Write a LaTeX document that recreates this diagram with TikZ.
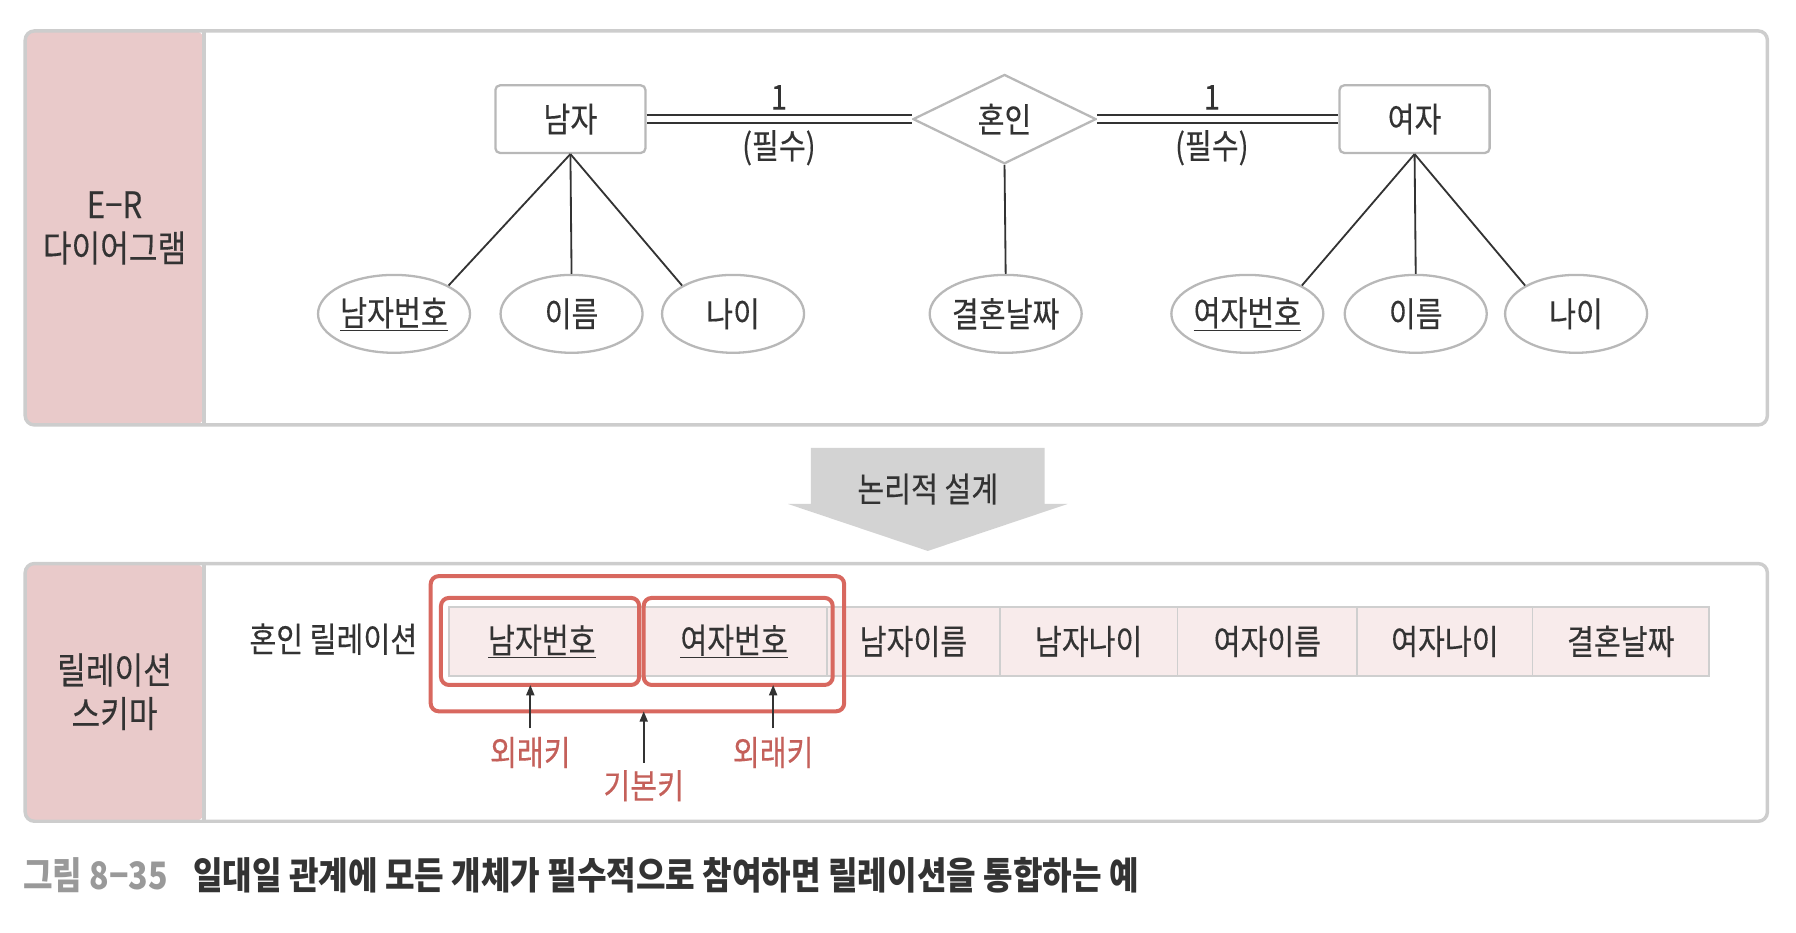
\documentclass[tikz,border=0pt]{standalone}
\usepackage{fontspec}
\setmainfont{Noto Sans CJK KR}[FakeStretch=0.85,UprightFeatures={FakeBold=0.3}]
\usetikzlibrary{shapes.geometric,arrows.meta}
\definecolor{pinkbg}{HTML}{E9CACA}
\definecolor{panelgray}{HTML}{CDCDCD}
\definecolor{cellfill}{HTML}{F8EBEB}
\definecolor{cellline}{HTML}{CFCFCF}
\definecolor{keyred}{HTML}{D8685F}
\definecolor{keytext}{HTML}{C4605A}
\definecolor{arrowgray}{HTML}{D3D3D3}
\definecolor{txt}{HTML}{333333}
\definecolor{capgray}{HTML}{999999}
\tikzset{
  every node/.style={text=txt,font=\fontsize{30}{34}\selectfont},
  panel/.style={draw=panelgray,line width=3pt,rounded corners=8pt},
  entity/.style={draw=panelgray!90!black,line width=2pt,fill=white,rounded corners=4pt,minimum width=131pt,minimum height=59pt,inner sep=0pt},
  relat/.style={diamond,draw=panelgray!90!black,line width=2pt,fill=white,minimum width=160pt,minimum height=78pt,inner sep=0pt,aspect=2},
  attr/.style={ellipse,draw=panelgray!90!black,line width=2pt,fill=white,minimum width=124pt,minimum height=68pt,inner sep=0pt},
  link/.style={draw=txt,line width=1.6pt},
  dbl/.style={draw=txt,line width=1.5pt,double=white,double distance=5.5pt},
  cell/.style={draw=cellline,line width=1.5pt,fill=cellfill,minimum height=60pt,inner sep=0pt},
  redbox/.style={draw=keyred,line width=3.5pt,rounded corners=7pt},
  keylbl/.style={text=keytext},
  sidelbl/.style={align=center,font=\fontsize{32}{38}\selectfont},
  keyarrow/.style={draw=txt,line width=1.5pt,-{Triangle[length=9pt,width=7pt]}},
}
\begin{document}
\begin{tikzpicture}[x=1pt,y=-1pt]
\useasboundingbox (0,0) rectangle (1568,814);
% ---------- top panel ----------
\fill[pinkbg,rounded corners=8pt] (22,27) rectangle (178,371);
\draw[panelgray,line width=3pt] (178,27) -- (178,371);
\draw[panel] (22,27) rectangle (1543,371);
\node[sidelbl] (erlbl) at (100,199) {E−R\\다이어그램};

\node[entity] (man) at (498,104) {남자};
\node[relat] (mar) at (877,104) {혼인};
\node[entity] (wom) at (1235,104) {여자};

\draw[dbl] (man.east) -- (mar.west);
\draw[dbl] (mar.east) -- (wom.west);
\node (c1) at (680,85) {1};
\node (p1) at (680,129) {(필수)};
\node (c2) at (1058,85) {1};
\node (p2) at (1058,129) {(필수)};

\node[attr] (mno) at (344,274) {\underline{남자번호}};
\node[attr] (mname) at (499,274) {이름};
\node[attr] (mage) at (640,274) {나이};
\node[attr] (date) at (878,274) {결혼날짜};
\node[attr] (wno) at (1089,274) {\underline{여자번호}};
\node[attr] (wname) at (1236,274) {이름};
\node[attr] (wage) at (1376,274) {나이};

\draw[link] (man.south) -- (mno.north east);
\draw[link] (man.south) -- (mname.north);
\draw[link] (man.south) -- (mage.north west);
\draw[link] (mar.south) -- (date.north);
\draw[link] (wom.south) -- (wno.north east);
\draw[link] (wom.south) -- (wname.north);
\draw[link] (wom.south) -- (wage.north west);

% ---------- transition arrow ----------
\fill[arrowgray] (708,391) -- (912,391) -- (912,440) -- (932,440) -- (810,481) -- (688,440) -- (708,440) -- cycle;
\node (logic) at (810,427) {논리적 설계};

% ---------- bottom panel ----------
\fill[pinkbg,rounded corners=8pt] (22,492) rectangle (178,717);
\draw[panelgray,line width=3pt] (178,492) -- (178,717);
\draw[panel] (22,492) rectangle (1543,717);
\node[sidelbl] (rslbl) at (100,604) {릴레이션\\스키마};

\node (rel) at (291,558) {혼인 릴레이션};
\node[cell,minimum width=330pt] (pkcells) at (557,560) {};
\node (c1t) at (473,560) {\underline{남자번호}};
\node (c2t) at (641,560) {\underline{여자번호}};
\node[cell,minimum width=151pt] (c3) at (797.5,560) {남자이름};
\node[cell,minimum width=155pt] (c4) at (950.5,560) {남자나이};
\node[cell,minimum width=157pt] (c5) at (1106.5,560) {여자이름};
\node[cell,minimum width=153pt] (c6) at (1261.5,560) {여자나이};
\node[cell,minimum width=154pt] (c7) at (1415,560) {결혼날짜};

\draw[redbox] (376,503) rectangle (737,621);
\draw[redbox] (385,522) rectangle (558,598);
\draw[redbox] (562,522) rectangle (727,598);
\coordinate (fk1) at (463,598);
\coordinate (pk) at (562,621);
\coordinate (fk2) at (675,598);

\node[keylbl] (fk1l) at (463,657) {외래키};
\node[keylbl] (pkl) at (562,686) {기본키};
\node[keylbl] (fk2l) at (675,657) {외래키};
\draw[keyarrow] (463,636) -- (fk1);
\draw[keyarrow] (562,666) -- (pk);
\draw[keyarrow] (675,636) -- (fk2);

% ---------- caption ----------
\node[anchor=west,inner sep=0pt,font=\bfseries\fontsize{33}{36}\selectfont] (cap) at (20,764)
  {\textcolor{capgray}{그림 8−35}\hspace{22pt}일대일 관계에 모든 개체가 필수적으로 참여하면 릴레이션을 통합하는 예};
\end{tikzpicture}
\end{document}
